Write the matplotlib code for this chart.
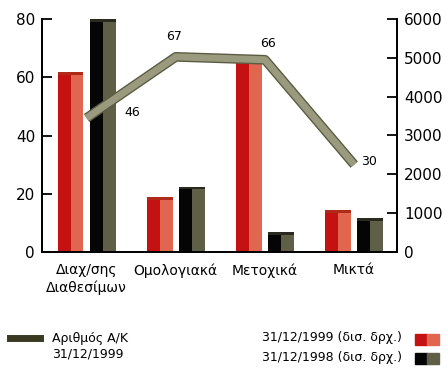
import matplotlib
matplotlib.use("Agg")
import matplotlib.pyplot as plt
import matplotlib.patheffects as pe
from matplotlib.patches import Rectangle
from matplotlib.lines import Line2D
import numpy as np

categories = ["Διαχ/σης\nΔιαθεσίμων", "Ομολογιακά", "Μετοχικά", "Μικτά"]
funds_count_1999 = [46, 67, 66, 30]            # Αριθμός Α/Κ 31/12/1999 (left axis)
assets_1999 = [4640, 1420, 4900, 1080]         # 31/12/1999 (δισ. δρχ.) (right axis)
assets_1998 = [5990, 1680, 520, 870]           # 31/12/1998 (δισ. δρχ.) (right axis)
left_ticks = [0, 20, 40, 60, 80]
right_ticks = [0, 1000, 2000, 3000, 4000, 5000, 6000]

legend_line = "Αριθμός Α/Κ\n31/12/1999"
legend_1999 = "31/12/1999 (δισ. δρχ.)"
legend_1998 = "31/12/1998 (δισ. δρχ.)"

W, H = 446, 371
fig = plt.figure(figsize=(W / 100, H / 100), dpi=100)
ax_l, ax_r, ax_t, ax_b = 42, 397, 19, 252
ax = fig.add_axes([ax_l / W, 1 - ax_b / H, (ax_r - ax_l) / W, (ax_b - ax_t) / H])
ax2 = ax.twinx()
ax.set_zorder(ax2.get_zorder() + 1)
ax.patch.set_visible(False)

x = np.arange(len(categories))
bw = 0.29
off = 0.18

def draw_bar(axis, xc, val, dark, light, cap):
    axis.bar(xc - bw / 4, val, width=bw / 2, color=dark, linewidth=0)
    axis.bar(xc + bw / 4, val, width=bw / 2, color=light, linewidth=0)
    axis.bar(xc, 70, bottom=val - 70, width=bw, color=cap, linewidth=0)

for i in range(len(categories)):
    draw_bar(ax2, x[i] - off, assets_1999[i], "#c41212", "#e0664f", "#b02a1a")
    draw_bar(ax2, x[i] + off, assets_1998[i], "#050505", "#5f5f48", "#2a2a20")

ax.plot(x, funds_count_1999, color="#9a9a7e", lw=5, solid_capstyle="butt",
        path_effects=[pe.Stroke(linewidth=7, foreground="#5c5c44"), pe.Normal()])

label_offsets = [(33, 4), (-1, 15), (2, 11.5), (11, 2)]
for xi, v, (dx, dy) in zip(x, funds_count_1999, label_offsets):
    ax.annotate(str(v), (xi, v), xytext=(dx, dy), textcoords="offset points",
                ha="center", va="center", fontsize=9)

ax.set_xlim(-0.5, 3.48)
ax.set_ylim(0, 80)
ax2.set_ylim(0, 6000)
ax.set_yticks(left_ticks)
ax2.set_yticks(right_ticks)
ax.set_xticks(x)
ax.set_xticklabels(categories, fontsize=10, linespacing=1.3)
ax.tick_params(axis="x", length=0, pad=8)
ax.tick_params(axis="y", direction="in", length=7, width=1.3, labelsize=11, pad=5)
ax2.tick_params(axis="y", direction="in", length=7, width=1.3, labelsize=11, pad=5)

for a in (ax, ax2):
    a.spines["top"].set_visible(False)
    for s in ("left", "right", "bottom"):
        a.spines[s].set_linewidth(1.3)

# legend drawn in figure pixel coordinates
def fx(px):
    return px / W

def fy(py):
    return 1 - py / H

fig.add_artist(Line2D([fx(10), fx(40)], [fy(338), fy(338)], color="#3a3a22", lw=5))
fig.text(fx(52), fy(346), legend_line, fontsize=9, va="center", ha="left", linespacing=1.25)
fig.text(fx(402), fy(338), legend_1999, fontsize=9, va="center", ha="right")
fig.text(fx(402), fy(357), legend_1998, fontsize=9, va="center", ha="right")
fig.add_artist(Rectangle((fx(415), fy(345)), fx(12), 11 / H, color="#c41212"))
fig.add_artist(Rectangle((fx(427), fy(345)), fx(12), 11 / H, color="#e0664f"))
fig.add_artist(Rectangle((fx(415), fy(364)), fx(12), 11 / H, color="#050505"))
fig.add_artist(Rectangle((fx(427), fy(364)), fx(12), 11 / H, color="#5f5f48"))

fig.savefig("out.png", dpi=100)
